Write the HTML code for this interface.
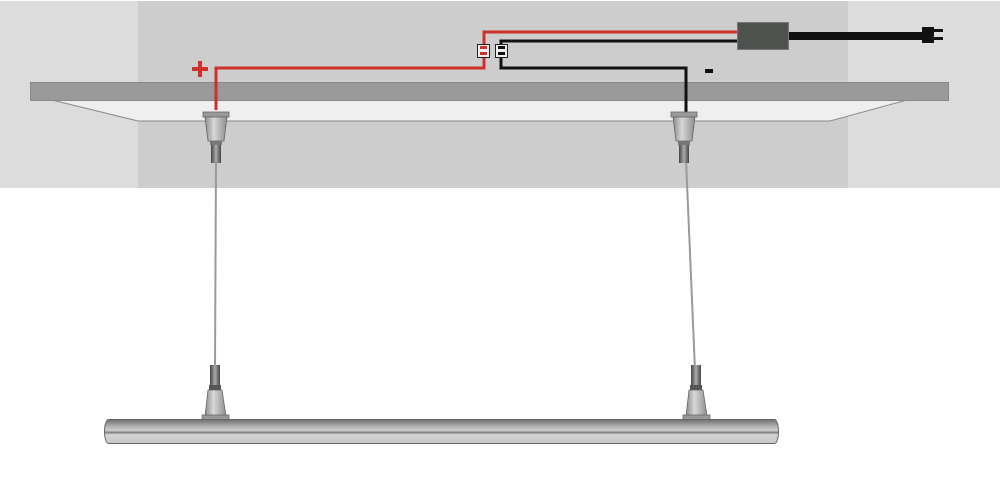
<!DOCTYPE html>
<html><head><meta charset="utf-8"><style>
html,body{margin:0;padding:0;background:#fff;}
svg{display:block;}
</style></head><body>
<svg width="1000" height="484" viewBox="0 0 1000 484" xmlns="http://www.w3.org/2000/svg">
<defs>
<linearGradient id="cone" x1="0" x2="1" y1="0" y2="0">
<stop offset="0" stop-color="#8a8a8a"/><stop offset="0.4" stop-color="#d8d8d8"/><stop offset="1" stop-color="#8d8d8d"/>
</linearGradient>
<linearGradient id="dark" x1="0" x2="1" y1="0" y2="0">
<stop offset="0" stop-color="#444"/><stop offset="0.5" stop-color="#aaa"/><stop offset="1" stop-color="#444"/>
</linearGradient>
<linearGradient id="tube" x1="0" x2="0" y1="0" y2="1">
<stop offset="0" stop-color="#6e6e6e"/><stop offset="0.25" stop-color="#a9a9a9"/><stop offset="0.45" stop-color="#cfcfcf"/><stop offset="0.55" stop-color="#7d7d7d"/><stop offset="0.62" stop-color="#d2d2d2"/><stop offset="1" stop-color="#c8c8c8"/>
</linearGradient>
</defs>
<rect x="0" y="0" width="1000" height="188" fill="#dcdcdc"/>
<rect x="138" y="0" width="710" height="188" fill="#cdcdcd"/>
<rect x="0" y="0" width="1000" height="1" fill="#fff"/>
<polygon points="52,100 907,100 830,121 138,121" fill="#eeefee" stroke="#8a8a8a" stroke-width="1"/>
<rect x="30.5" y="82.5" width="918" height="18" fill="#999a99" stroke="#888" stroke-width="1"/>
<polyline points="216,110 216,68 484,68 484,55" fill="none" stroke="#cf3029" stroke-width="3"/>
<polyline points="484,46 484,32 750,32" fill="none" stroke="#cf3029" stroke-width="3"/>
<polyline points="501,46 501,41 740,41" fill="none" stroke="#111" stroke-width="3"/>
<polyline points="501,56 501,68 686,68 686,112" fill="none" stroke="#111" stroke-width="3"/>
<rect x="477.5" y="44.5" width="12" height="13" fill="#eee" stroke="#222"/>
<rect x="480" y="46" width="7" height="3" fill="#d3302a"/><rect x="480" y="52" width="7" height="3" fill="#d3302a"/>
<rect x="495.5" y="44.5" width="12" height="13" fill="#eee" stroke="#222"/>
<rect x="498" y="46" width="7" height="3" fill="#111"/><rect x="498" y="52" width="7" height="3" fill="#111"/>
<rect x="737.5" y="22.5" width="51" height="27" fill="#4f5350" stroke="#777"/>
<rect x="789" y="32" width="135" height="8" fill="#111"/>
<rect x="922" y="27" width="12" height="16" fill="#111"/>
<rect x="934" y="29" width="9" height="3" fill="#111"/><rect x="934" y="37" width="9" height="3" fill="#111"/>
<text x="200" y="76" font-family="Liberation Sans, sans-serif" font-size="1" fill="#cf3029" text-anchor="middle">+</text>
<rect x="192" y="67" width="16" height="4" fill="#cf3029"/>
<rect x="198" y="61" width="4" height="16" fill="#cf3029"/>
<rect x="705" y="69" width="8" height="4" fill="#111"/>
<line x1="216" y1="160" x2="215" y2="370" stroke="#9a9a9a" stroke-width="2"/>
<line x1="686" y1="160" x2="695" y2="370" stroke="#9a9a9a" stroke-width="2"/>
<g>
<rect x="203" y="112" width="26" height="5" fill="#9a9a9a" stroke="#666" stroke-width="0.8"/>
<polygon points="205,117 227,117 224,141 208,141" fill="url(#cone)" stroke="#666" stroke-width="0.8"/>
<rect x="210" y="141" width="12" height="4" fill="#777"/>
<rect x="211" y="145" width="10" height="18" fill="url(#dark)"/>
</g>
<g>
<rect x="671" y="112" width="26" height="5" fill="#9a9a9a" stroke="#666" stroke-width="0.8"/>
<polygon points="673,117 695,117 692,141 676,141" fill="url(#cone)" stroke="#666" stroke-width="0.8"/>
<rect x="678" y="141" width="12" height="4" fill="#777"/>
<rect x="679" y="145" width="10" height="18" fill="url(#dark)"/>
</g>
<g>
<rect x="210" y="365" width="10" height="20" fill="url(#dark)"/>
<rect x="209" y="385" width="12" height="5" fill="#555"/>
<polygon points="208,390 222,390 226,416 205,416" fill="url(#cone)" stroke="#666" stroke-width="0.8"/>
<rect x="202" y="415" width="27" height="5" fill="#999" stroke="#666" stroke-width="0.8"/>
</g>
<g>
<rect x="691" y="365" width="10" height="20" fill="url(#dark)"/>
<rect x="690" y="385" width="12" height="5" fill="#555"/>
<polygon points="689,390 703,390 707,416 686,416" fill="url(#cone)" stroke="#666" stroke-width="0.8"/>
<rect x="683" y="415" width="27" height="5" fill="#999" stroke="#666" stroke-width="0.8"/>
</g>
<rect x="104.5" y="419.5" width="674" height="24" rx="4" ry="12" fill="url(#tube)" stroke="#666" stroke-width="1"/>
</svg>
</body></html>
